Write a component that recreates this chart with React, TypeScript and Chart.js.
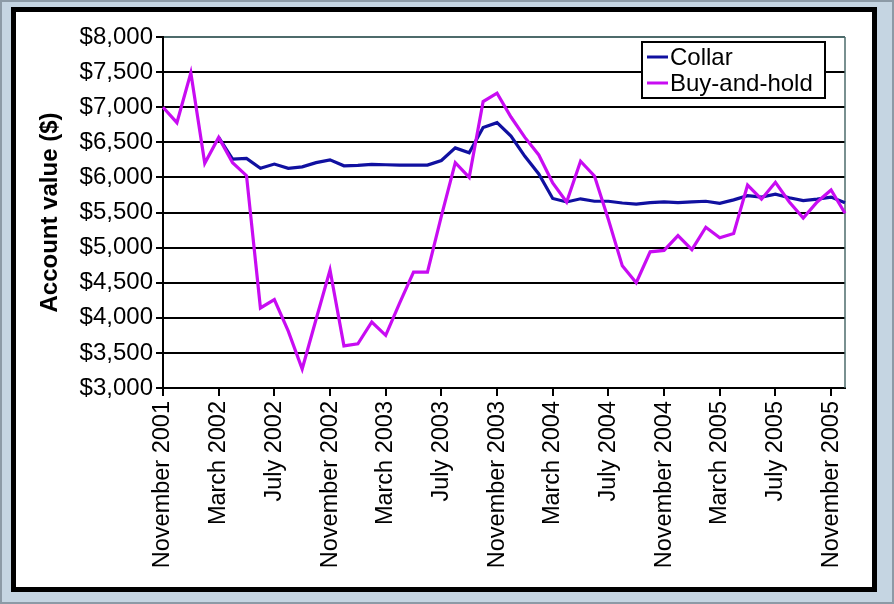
import React, { useEffect, useRef } from "react";
import { Chart, registerables } from "chart.js";

Chart.register(...registerables);

const months: string[] = [
  "November 2001", "December 2001", "January 2002", "February 2002", "March 2002", "April 2002",
  "May 2002", "June 2002", "July 2002", "August 2002", "September 2002", "October 2002",
  "November 2002", "December 2002", "January 2003", "February 2003", "March 2003", "April 2003",
  "May 2003", "June 2003", "July 2003", "August 2003", "September 2003", "October 2003",
  "November 2003", "December 2003", "January 2004", "February 2004", "March 2004", "April 2004",
  "May 2004", "June 2004", "July 2004", "August 2004", "September 2004", "October 2004",
  "November 2004", "December 2004", "January 2005", "February 2005", "March 2005", "April 2005",
  "May 2005", "June 2005", "July 2005", "August 2005", "September 2005", "October 2005",
  "November 2005", "December 2005",
];

const collar: (number | null)[] = [
  null, null, null, null, 6570, 6260, 6270, 6130, 6190, 6130,
  6150, 6210, 6250, 6165, 6170, 6185, 6180, 6175, 6175, 6175,
  6240, 6420, 6350, 6710, 6780, 6590, 6300, 6050, 5700, 5650,
  5695, 5660, 5660, 5635, 5620, 5640, 5650, 5640, 5650, 5660,
  5630, 5680, 5740, 5720, 5760, 5710, 5670, 5690, 5720, 5640,
];

const buyAndHold: number[] = [
  7000, 6780, 7490, 6200, 6570, 6210, 6025, 4140, 4260, 3810,
  3270, 3980, 4680, 3600, 3630, 3940, 3750, 4210, 4650, 4650,
  5450, 6210, 6000, 7080, 7200, 6860, 6570, 6320, 5920, 5650,
  6230, 6020, 5400, 4740, 4500, 4940, 4960, 5170, 4970, 5290,
  5140, 5200, 5890, 5690, 5930, 5650, 5420, 5650, 5820, 5490,
];

const seriesNames: string[] = ["Collar", "Buy-and-hold"];
const seriesColors: string[] = ["#1010a0", "#c80cf2"];
const yMin = 3000;
const yMax = 8000;
const yStep = 500;
const labelEvery = 4;

const FONT = "'Liberation Sans', Arial, Helvetica, sans-serif";

const framePlugin = {
  id: "frameAndLegend",
  beforeDatasetsDraw(chart: any) {
    const { ctx, chartArea } = chart;
    ctx.save();
    ctx.strokeStyle = "#4d6b6b";
    ctx.lineWidth = 1.5;
    ctx.beginPath();
    ctx.moveTo(chartArea.right, chartArea.top);
    ctx.lineTo(chartArea.right, chartArea.bottom);
    ctx.stroke();
    ctx.restore();
  },
  afterDraw(chart: any) {
    const { ctx, chartArea } = chart;
    const w = 183;
    const h = 56;
    const x = chartArea.right - 203;
    const y = chartArea.top + 5;
    ctx.save();
    ctx.fillStyle = "#ffffff";
    ctx.fillRect(x, y, w, h);
    ctx.strokeStyle = "#000";
    ctx.lineWidth = 2;
    ctx.strokeRect(x, y, w, h);
    ctx.font = `24px ${FONT}`;
    ctx.textBaseline = "middle";
    ctx.textAlign = "left";
    chart.data.datasets.forEach((ds: any, i: number) => {
      const cy = y + 15 + i * 26;
      ctx.strokeStyle = ds.borderColor;
      ctx.lineWidth = 3;
      ctx.beginPath();
      ctx.moveTo(x + 5, cy);
      ctx.lineTo(x + 26, cy);
      ctx.stroke();
      ctx.fillStyle = "#000";
      ctx.fillText(ds.label, x + 28, cy + 1);
    });
    ctx.restore();
  },
};

export default function App() {
  const canvasRef = useRef<HTMLCanvasElement | null>(null);

  useEffect(() => {
    const canvas = canvasRef.current;
    if (!canvas) return;
    const chart = new Chart(canvas, {
      type: "line",
      data: {
        labels: months,
        datasets: [
          {
            label: seriesNames[0],
            data: collar,
            borderColor: seriesColors[0],
            backgroundColor: seriesColors[0],
            borderWidth: 3.2,
            pointRadius: 0,
            tension: 0,
            spanGaps: false,
            order: 2,
          },
          {
            label: seriesNames[1],
            data: buyAndHold,
            borderColor: seriesColors[1],
            backgroundColor: seriesColors[1],
            borderWidth: 3.2,
            pointRadius: 0,
            tension: 0,
            order: 1,
          },
        ],
      },
      options: {
        responsive: false,
        animation: false,
        layout: { padding: { top: 25, right: 27, left: 0, bottom: 0 } },
        plugins: {
          legend: { display: false },
          tooltip: { enabled: false },
        },
        scales: {
          x: {
            type: "category",
            offset: false,
            afterFit: (scale: any) => {
              scale.height = 199;
            },
            grid: {
              drawOnChartArea: false,
              drawTicks: true,
              tickLength: 8,
              color: "#000",
              lineWidth: 2,
            },
            border: { display: true, color: "#000", width: 2 },
            ticks: {
              autoSkip: false,
              maxRotation: 90,
              minRotation: 90,
              padding: 5,
              color: "#000",
              font: { family: FONT, size: 23.5 },
              callback: function (this: any, _v: any, index: number) {
                return index % labelEvery === 0 ? months[index] : null;
              },
            },
          },
          y: {
            min: yMin,
            max: yMax,
            afterFit: (scale: any) => {
              scale.width = 147;
            },
            grid: {
              drawTicks: true,
              tickLength: 7,
              tickColor: "#000",
              lineWidth: 2,
              color: (ctx: any) => (ctx.tick && ctx.tick.value === yMax ? "#4d6b6b" : "#000"),
            },
            border: { display: true, color: "#000", width: 2 },
            ticks: {
              stepSize: yStep,
              padding: 3,
              color: "#000",
              font: { family: FONT, size: 24 },
              callback: (v: any) => "$" + Number(v).toLocaleString("en-US"),
            },
            title: {
              display: true,
              text: "Account value ($)",
              color: "#000",
              font: { family: FONT, size: 24, weight: "bold" },
              padding: { top: 20, bottom: 0 },
            },
          },
        },
      },
      plugins: [framePlugin],
    });
    return () => chart.destroy();
  }, []);

  return (
    <div
      style={{
        position: "fixed",
        left: 0,
        top: 0,
        width: 894,
        height: 604,
        boxSizing: "border-box",
        background: "#c5d5e2",
        border: "2px solid #8c9aa6",
      }}
    >
      <div
        style={{
          position: "absolute",
          left: 9,
          top: 5,
          width: 866,
          height: 585,
          boxSizing: "border-box",
          border: "5px solid #000",
          background: "#fff",
        }}
      >
        <canvas
          ref={canvasRef}
          width={856}
          height={575}
          style={{ display: "block", width: 856, height: 575 }}
        />
      </div>
    </div>
  );
}
